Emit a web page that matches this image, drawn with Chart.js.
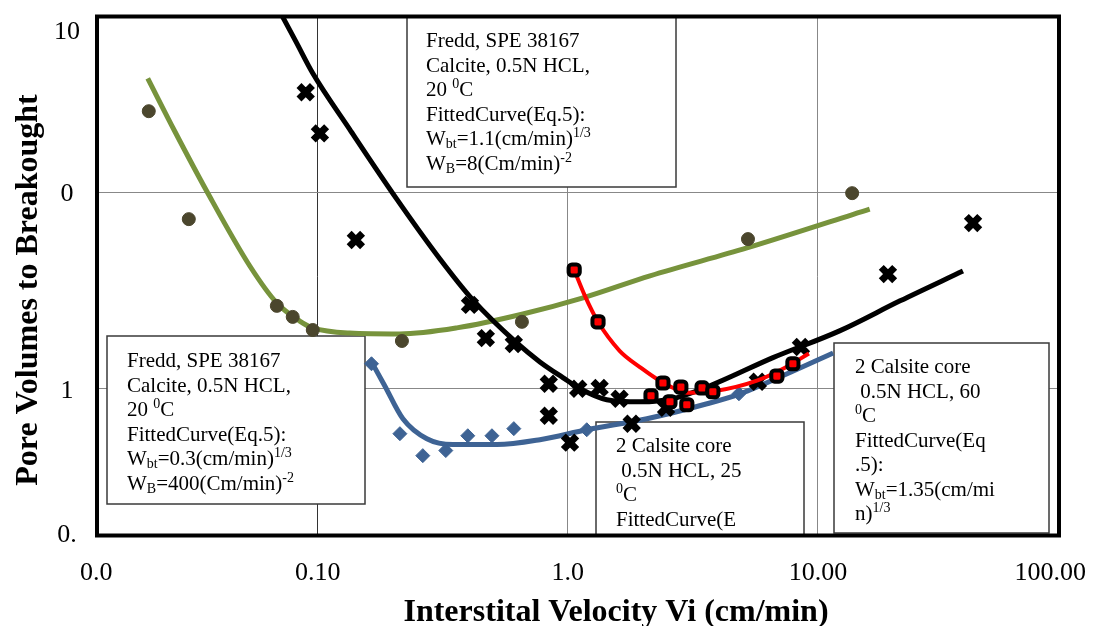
<!DOCTYPE html>
<html lang="en">
<head>
<meta charset="UTF-8" />
<title>Pore Volumes to Breakthrough</title>
<script src="https://cdn.jsdelivr.net/npm/chart.js"></script>
<style>
    html, body { margin: 0; padding: 0; background: #fff; }
    #chart { width: 1093px; height: 626px; position: relative; }
</style>
</head>
<body>
<div id="chart"><canvas id="myChart"></canvas></div>
<script>
// Axis ranges (both log) and the tick labels as printed on the original
const xMin = 0.0131, xMax = 92.0;
const yMin = 0.1794, yMax = 78.2;
const xGridValues = [0.1, 1, 10];
const yGridValues = [1, 10];
const xTickValues = [xMin, 0.1, 1, 10, xMax];
const xTickLabels = ["0.0", "0.10", "1.0", "10.00", "100.00"];
const yTickValues = [yMin, 1, 10, yMax];
const yTickLabels = ["0.", "1", "0", "10"];

// Green circles + fitted curve
const greenX = [0.0211, 0.0305, 0.0686, 0.0794, 0.0955, 0.217, 0.655, 5.25, 13.7];
const greenY = [25.8, 7.29, 2.64, 2.32, 1.99, 1.75, 2.19, 5.77, 9.88];
const greenFitX = [0.0209, 0.0268, 0.036, 0.0535, 0.0686, 0.0847, 0.0955, 0.134, 0.213, 0.36, 0.661, 1.15, 2.13, 5.2, 16.1];
const greenFitY = [37.9, 20.4, 10.1, 4.21, 2.73, 2.21, 2.04, 1.92, 1.9, 2.04, 2.4, 2.9, 3.75, 5.2, 8.2];

// Black crosses + fitted curve
const blackX = [0.0895, 0.102, 0.142, 0.406, 0.47, 0.608, 0.839, 0.839, 1.02, 1.1, 1.34, 1.61, 1.8, 2.47, 5.75, 8.55, 19.05, 41.7];
const blackY = [32.2, 19.9, 5.71, 2.67, 1.81, 1.69, 1.06, 0.729, 0.532, 1.0, 1.01, 0.89, 0.664, 0.801, 1.085, 1.63, 3.83, 6.96];
const blackFitX = [0.0698, 0.0817, 0.0955, 0.134, 0.207, 0.308, 0.417, 0.625, 0.773, 0.955, 1.12, 1.43, 1.94, 2.63, 3.7, 6.61, 12.2, 21.3, 38.0];
const blackFitY = [84.9, 58.4, 40.2, 20.9, 9.21, 4.57, 2.83, 1.71, 1.37, 1.14, 1.0, 0.88, 0.859, 0.89, 1.036, 1.44, 1.97, 2.8, 3.97];

// Red squares + fitted curve
const redX = [1.06, 1.32, 2.15, 2.4, 2.56, 2.83, 2.99, 3.44, 3.8, 6.85, 7.94];
const redY = [4.02, 2.19, 0.922, 1.07, 0.859, 1.02, 0.829, 1.01, 0.966, 1.16, 1.34];
const redFitX = [1.06, 1.17, 1.32, 1.61, 1.94, 2.33, 3.08, 3.94, 5.7, 7.38, 9.2];
const redFitY = [4.02, 2.97, 2.19, 1.56, 1.29, 1.1, 0.954, 0.977, 1.1, 1.28, 1.51];

// Blue diamonds + fitted curve
const blueX = [0.164, 0.213, 0.263, 0.325, 0.398, 0.497, 0.608, 1.19, 4.83];
const blueY = [1.34, 0.591, 0.457, 0.485, 0.577, 0.577, 0.627, 0.619, 0.943];
const blueFitX = [0.163, 0.185, 0.219, 0.273, 0.347, 0.52, 0.773, 1.19, 2.07, 3.6, 4.88, 7.73, 11.5];
const blueFitY = [1.39, 1.04, 0.704, 0.557, 0.52, 0.52, 0.551, 0.619, 0.704, 0.839, 0.943, 1.21, 1.52];

const FONT = '"Liberation Serif", "Times New Roman", serif';

// text boxes: each line is a list of runs [text, "sup" | "sub"]
const notes = [
    {
        rect: [407, 16, 676, 187], textX: 426, baseY: 47,
        lines: [
            [["Fredd, SPE 38167"]],
            [["Calcite, 0.5N HCL,"]],
            [["20 "], ["0", "sup"], ["C"]],
            [["FittedCurve(Eq.5):"]],
            [["W"], ["bt", "sub"], ["=1.1(cm/min)"], ["1/3", "sup"]],
            [["W"], ["B", "sub"], ["=8(Cm/min)"], ["-2", "sup"]],
        ],
    },
    {
        rect: [107, 336, 365, 504], textX: 127, baseY: 367,
        lines: [
            [["Fredd, SPE 38167"]],
            [["Calcite, 0.5N HCL,"]],
            [["20 "], ["0", "sup"], ["C"]],
            [["FittedCurve(Eq.5):"]],
            [["W"], ["bt", "sub"], ["=0.3(cm/min)"], ["1/3", "sup"]],
            [["W"], ["B", "sub"], ["=400(Cm/min)"], ["-2", "sup"]],
        ],
    },
    {
        rect: [596, 422, 804, 545], textX: 616, baseY: 452,
        lines: [
            [["2 Calsite core"]],
            [[" 0.5N HCL, 25"]],
            [["0", "sup"], ["C"]],
            [["FittedCurve(E"]],
        ],
    },
    {
        rect: [834, 343, 1049, 533], textX: 855, baseY: 373,
        lines: [
            [["2 Calsite core"]],
            [[" 0.5N HCL, 60"]],
            [["0", "sup"], ["C"]],
            [["FittedCurve(Eq"]],
            [[".5):"]],
            [["W"], ["bt", "sub"], ["=1.35(cm/mi"]],
            [["n)"], ["1/3", "sup"]],
        ],
    },
];

function zip(xs, ys) {
    return xs.map((x, i) => ({ x: x, y: ys[i] }));
}

function drawRuns(ctx, x, y, runs, size) {
    let cx = x;
    for (const [text, kind] of runs) {
        const s = kind ? Math.round(size * 0.65) : size;
        const dy = kind === "sup" ? -size * 0.38 : kind === "sub" ? size * 0.16 : 0;
        ctx.font = s + "px " + FONT;
        ctx.fillText(text, cx, y + dy);
        cx += ctx.measureText(text).width;
    }
}

const decor = {
    id: "decor",
    beforeDatasetsDraw(chart) {
        const ctx = chart.ctx;
        const a = chart.chartArea;
        ctx.save();
        ctx.beginPath();
        ctx.rect(a.left, a.top, a.right - a.left, a.bottom - a.top);
        ctx.clip();
        for (const n of notes) {
            const [x1, y1, x2, y2] = n.rect;
            ctx.fillStyle = "#fff";
            ctx.fillRect(x1, y1, x2 - x1, y2 - y1);
            ctx.strokeStyle = "#3a3a3a";
            ctx.lineWidth = 1.5;
            ctx.strokeRect(x1, y1, x2 - x1, y2 - y1);
            ctx.fillStyle = "#000";
            ctx.textAlign = "left";
            ctx.textBaseline = "alphabetic";
            n.lines.forEach((runs, i) => drawRuns(ctx, n.textX, n.baseY + i * 24.5, runs, 21));
        }
        ctx.restore();
    },
    afterDraw(chart) {
        const ctx = chart.ctx;
        const a = chart.chartArea;
        const xs = chart.scales.x;
        const ys = chart.scales.y;
        ctx.save();
        // thick plot frame
        ctx.strokeStyle = "#000";
        ctx.lineWidth = 4;
        ctx.strokeRect(a.left, a.top, a.right - a.left, a.bottom - a.top);

        // tick labels
        ctx.fillStyle = "#000";
        ctx.font = "26px " + FONT;
        ctx.textBaseline = "alphabetic";
        xTickValues.forEach((v, i) => {
            const px = xs.getPixelForValue(v);
            if (i === 0) { ctx.textAlign = "left"; ctx.fillText(xTickLabels[i], px - 17, 580); }
            else if (i === xTickValues.length - 1) { ctx.textAlign = "right"; ctx.fillText(xTickLabels[i], px + 27, 580); }
            else { ctx.textAlign = "center"; ctx.fillText(xTickLabels[i], px, 580); }
        });
        ctx.textAlign = "center";
        yTickValues.forEach((v, i) => {
            const py = Math.min(Math.max(ys.getPixelForValue(v) + 9, a.top + 22), a.bottom + 6);
            ctx.fillText(yTickLabels[i], 67, py);
        });

        // axis titles
        ctx.font = "bold 32px " + FONT;
        ctx.textAlign = "center";
        ctx.fillText("Interstital Velocity Vi (cm/min)", 616, 621);
        ctx.translate(37, 290);
        ctx.rotate(-Math.PI / 2);
        ctx.fillText("Pore Volumes to Breakought", 0, 0);
        ctx.restore();
    },
};

const markerStyle = (style, radius, fill, border, width) => ({
    pointStyle: style,
    pointRadius: radius,
    pointBackgroundColor: fill,
    pointBorderColor: border,
    pointBorderWidth: width,
    showLine: false,
});

const curveStyle = (color, width) => ({
    showLine: true,
    borderColor: color,
    borderWidth: width,
    pointRadius: 0,
    fill: false,
    cubicInterpolationMode: "monotone",
});

const ctx = document.getElementById("myChart").getContext("2d");
const myChart = new Chart(ctx, {
    type: "scatter",
    data: {
        datasets: [
            { label: "Red points", data: zip(redX, redY), ...markerStyle("rectRounded", 6.5, "#ff0000", "#000", 4) },
            { label: "Red fit", data: zip(redFitX, redFitY), ...curveStyle("#ff0000", 4) },
            { label: "Black points", data: zip(blackX, blackY), ...markerStyle("crossRot", 9.5, "#000", "#000", 7) },
            { label: "Black fit", data: zip(blackFitX, blackFitY), ...curveStyle("#000", 5) },
            { label: "Blue points", data: zip(blueX, blueY), ...markerStyle("rectRot", 7, "#3e6394", "#3e6394", 1) },
            { label: "Blue fit", data: zip(blueFitX, blueFitY), ...curveStyle("#3e6394", 5) },
            { label: "Green points", data: zip(greenX, greenY), ...markerStyle("circle", 6.5, "#4b462d", "#4b462d", 1) },
            { label: "Green fit", data: zip(greenFitX, greenFitY), ...curveStyle("#77933c", 5) },
        ],
    },
    options: {
        responsive: true,
        maintainAspectRatio: false,
        animation: false,
        events: [],
        layout: { padding: { left: 97, right: 34, top: 15, bottom: 90.5 } },
        plugins: { legend: { display: false }, tooltip: { enabled: false } },
        scales: {
            x: {
                type: "logarithmic",
                min: xMin,
                max: xMax,
                afterBuildTicks: (axis) => { axis.ticks = xGridValues.map((v) => ({ value: v })); },
                ticks: { display: false },
                grid: { color: (c) => (c.tick && c.tick.value === 0.1 ? "#333" : "#888"), lineWidth: 1, drawTicks: false },
                border: { display: false },
            },
            y: {
                type: "logarithmic",
                min: yMin,
                max: yMax,
                afterBuildTicks: (axis) => { axis.ticks = yGridValues.map((v) => ({ value: v })); },
                ticks: { display: false },
                grid: { color: "#888", lineWidth: 1, drawTicks: false },
                border: { display: false },
            },
        },
    },
    plugins: [decor],
});
</script>
</body>
</html>
